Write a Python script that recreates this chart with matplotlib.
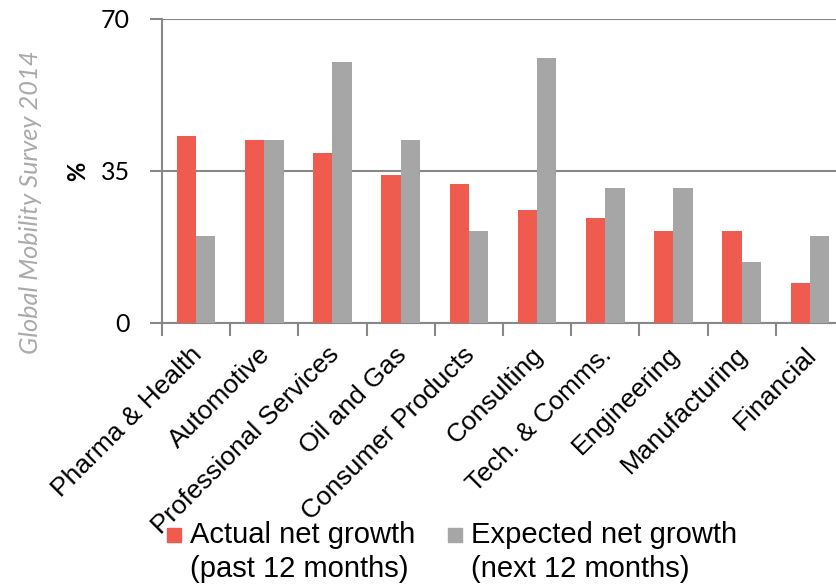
import matplotlib
matplotlib.use("Agg")
import matplotlib.pyplot as plt
import matplotlib.transforms as mtrans
import numpy as np
from matplotlib.patches import Rectangle

categories = ["Pharma & Health", "Automotive", "Professional Services", "Oil and Gas",
              "Consumer Products", "Consulting", "Tech. & Comms.", "Engineering",
              "Manufacturing", "Financial"]
actual = [43, 42, 39, 34, 32, 26, 24, 21, 21, 9]
expected = [20, 42, 60, 42, 21, 61, 31, 31, 14, 20]
yticks = [0, 35, 70]
legend_labels = [["Actual net growth", "(past 12 months)"],
                 ["Expected net growth", "(next 12 months)"]]

RED = "#F05B50"
GRAY = "#A6A6A6"
AX = "#888888"

plt.rcParams['font.family'] = ['Liberation Sans', 'DejaVu Sans']

fig = plt.figure(figsize=(8.37, 5.85), dpi=100)
W, H = 837, 585
x0, x1 = 162, 844
y0, y1 = 322.5, 18.7
ax = fig.add_axes([x0 / W, 1 - y0 / H, (x1 - x0) / W, (y0 - y1) / H])

x = np.arange(len(categories))
bw = 0.283
ax.bar(x - bw / 2, actual, bw, color=RED, zorder=3)
ax.bar(x + bw / 2, expected, bw, color=GRAY, zorder=3)

ax.set_xlim(-0.5, len(categories) - 0.5)
ax.set_ylim(0, 70)
ax.set_yticks(yticks)
ax.set_yticklabels([str(v) for v in yticks], fontsize=18, family=['Lato', 'DejaVu Sans'])
ax.yaxis.grid(True, color=AX, linewidth=1.5, zorder=0)
for s in ["top", "right"]:
    ax.spines[s].set_visible(False)
for s in ["left", "bottom"]:
    ax.spines[s].set_color(AX)
    ax.spines[s].set_linewidth(1.5)
ax.tick_params(axis='y', length=9, width=1.5, color=AX, pad=14)

ax.set_xticks(np.arange(-0.5, len(categories) + 0.5, 1))
ax.set_xticklabels([])
ax.tick_params(axis='x', which='major', length=9, width=1.5, color=AX)
ax.set_xticks(x, minor=True)
labels = ax.set_xticklabels(categories, minor=True, rotation=45, ha='right',
                            rotation_mode='anchor', fontsize=19)
ax.tick_params(axis='x', which='minor', length=0, pad=8)
for lab in labels:
    lab.set_transform(lab.get_transform() +
                      mtrans.ScaledTranslation(-6 / 100, -9 / 100, fig.dpi_scale_trans))

fig.text(78 / W, 1 - 171 / H, "%", rotation=90, ha='center', va='center',
         fontsize=17, fontweight='bold', family=['Lato', 'DejaVu Sans'])

fig.text(31 / W, 1 - 202 / H, "Global Mobility Survey 2014", rotation=90,
         ha='center', va='center', fontsize=18.3, style='italic', color="#AAAAAA",
         family=['Lato', 'DejaVu Sans'])

# legend drawn manually (square handle aligned with first line)
leg_x = [167, 448]
for (sx, col, lines) in zip(leg_x, [RED, GRAY], legend_labels):
    fig.add_artist(Rectangle((sx / W, 1 - 542 / H), 14 / W, 14 / H,
                             transform=fig.transFigure, color=col))
    fig.text((sx + 23) / W, 1 - 543 / H, lines[0], fontsize=21, va='baseline')
    fig.text((sx + 23) / W, 1 - 577 / H, lines[1], fontsize=21, va='baseline')

fig.savefig("out.png", dpi=100)
